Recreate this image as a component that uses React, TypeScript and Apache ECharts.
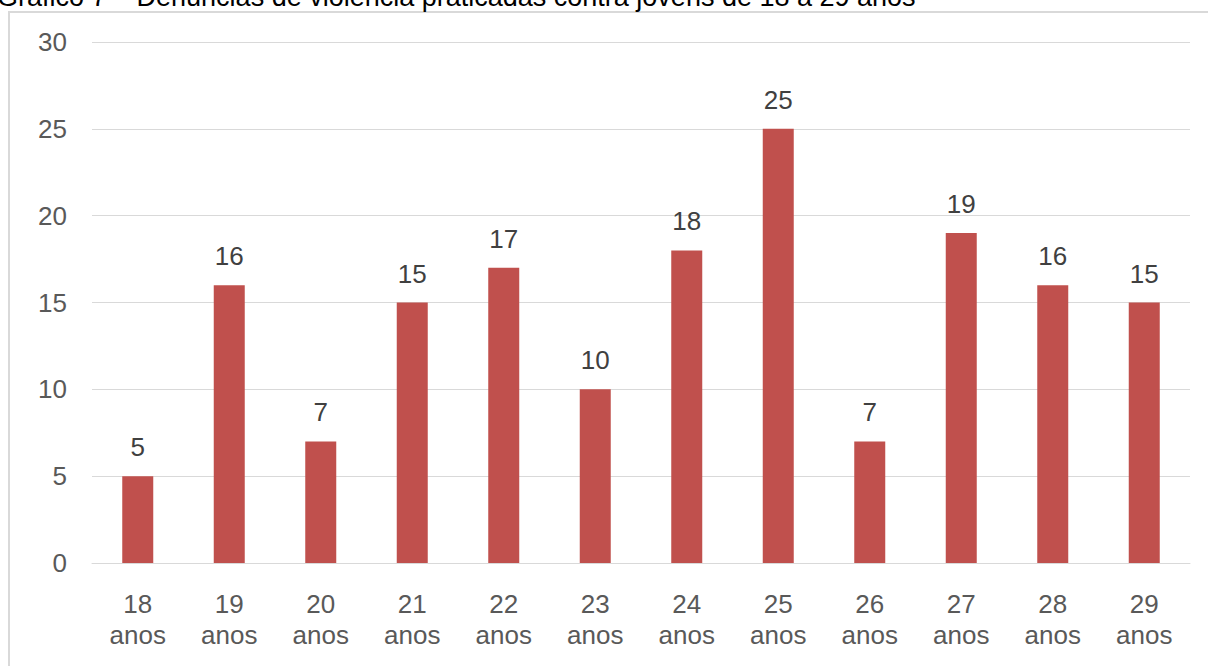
import React, { useEffect, useRef } from "react";
import * as echarts from "echarts";

const categories = ["18\nanos", "19\nanos", "20\nanos", "21\nanos", "22\nanos", "23\nanos", "24\nanos", "25\nanos", "26\nanos", "27\nanos", "28\nanos", "29\nanos"];
const values = [5, 16, 7, 15, 17, 10, 18, 25, 7, 19, 16, 15];
const titleText = "Gráfico 7 – Denúncias de violência praticadas contra jovens de 18 a 29 anos";

export default function App() {
  const ref = useRef<HTMLDivElement>(null);
  useEffect(() => {
    const chart = echarts.init(ref.current!, null, { renderer: "svg" });
    const font = "Liberation Sans, Arial, sans-serif";
    chart.setOption({
      animation: false,
      backgroundColor: "#ffffff",
      textStyle: { fontFamily: font },
      graphic: [
        {
          type: "rect",
          shape: { x: 9, y: 12, width: 1220, height: 680 },
          style: { fill: "none", stroke: "#d9d9d9", lineWidth: 2 },
          z: 0,
        },
        {
          type: "text",
          x: -3,
          y: -17,
          style: {
            text: titleText,
            font: "27px " + font,
            fill: "#000000",
          },
          z: 10,
        },
      ],
      grid: { left: 92, right: 18, top: 42, bottom: 103, containLabel: false },
      xAxis: {
        type: "category",
        data: categories,
        axisLine: { show: true, lineStyle: { color: "#d9d9d9", width: 1 } },
        axisTick: { show: false },
        axisLabel: { color: "#595959", fontSize: 26, lineHeight: 31, margin: 25, fontFamily: font },
      },
      yAxis: {
        type: "value",
        min: 0,
        max: 30,
        interval: 5,
        axisLine: { show: false },
        axisTick: { show: false },
        splitLine: { lineStyle: { color: "#d9d9d9", width: 1 } },
        axisLabel: { color: "#595959", fontSize: 26, margin: 25, fontFamily: font },
      },
      series: [
        {
          type: "bar",
          data: values,
          barWidth: 31,
          itemStyle: { color: "#c0504d" },
          label: { show: true, position: "top", distance: 16, color: "#404040", fontSize: 26, fontFamily: font },
        },
      ],
    });
    return () => chart.dispose();
  }, []);
  return <div ref={ref} style={{ position: "fixed", left: 0, top: 0, width: 1208, height: 666 }} />;
}
